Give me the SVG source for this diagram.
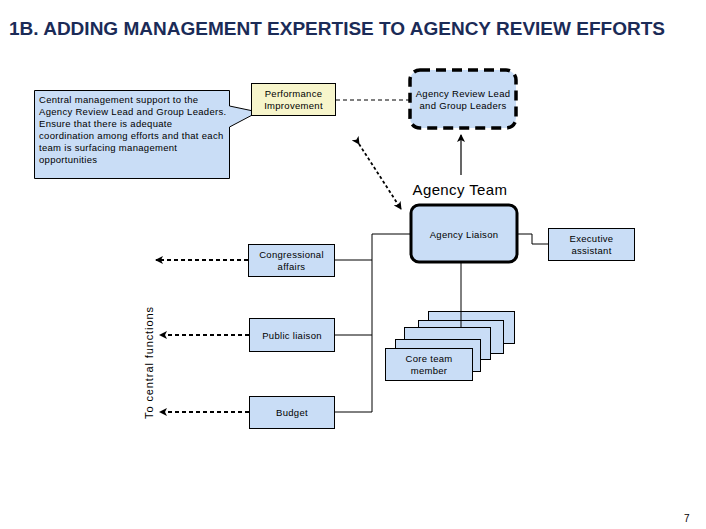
<svg xmlns="http://www.w3.org/2000/svg" width="706" height="529" viewBox="0 0 706 529">
<style>
text{font-family:"Liberation Sans",Arial,sans-serif;fill:#000}
.s{font-size:9.5px;letter-spacing:0.3px}
.box{fill:#c9ddf6;stroke:#000;stroke-width:1}
.ln{fill:none;stroke:#000;stroke-width:1}
.dsh{fill:none;stroke:#000;stroke-width:2;stroke-dasharray:4 3}
</style>
<defs>
<marker id="ah" markerWidth="8" markerHeight="8" refX="7" refY="4" orient="auto" markerUnits="userSpaceOnUse">
<path d="M0,0 L8,4 L0,8 L2,4 Z" fill="#000"/>
</marker>
</defs>
<rect width="706" height="529" fill="#fff"/>
<text x="9" y="35" font-size="18" font-weight="bold" style="fill:#1b2b57" textLength="656" lengthAdjust="spacingAndGlyphs">1B. ADDING MANAGEMENT EXPERTISE TO AGENCY REVIEW EFFORTS</text>

<g id="connectors">
<line x1="336" y1="100" x2="409" y2="100" stroke="#000" stroke-width="1" stroke-dasharray="4 3"/>
<line x1="461" y1="175" x2="461" y2="135" stroke="#000" stroke-width="1.2" marker-end="url(#ah)"/>
<line x1="359" y1="144" x2="401" y2="209" stroke="#000" stroke-width="1.8" stroke-dasharray="3 2.5" marker-start="url(#ah)" marker-end="url(#ah)"/>
<polyline class="ln" points="410,234 372,234 372,412 334,412"/>
<line class="ln" x1="334" y1="260" x2="372" y2="260"/>
<line class="ln" x1="334" y1="335" x2="372" y2="335"/>
<polyline class="ln" points="518,234 532,234 532,244 548,244"/>
<line class="dsh" x1="248" y1="260" x2="156" y2="260" marker-end="url(#ah)"/>
<line class="dsh" x1="249" y1="335" x2="160" y2="335" marker-end="url(#ah)"/>
<line class="dsh" x1="249" y1="412" x2="160" y2="412" marker-end="url(#ah)"/>
</g>

<g id="callout">
<path d="M34.5,90.5 H229.5 V106 L258,112 L229.5,127 V178.5 H34.5 Z" fill="#c9ddf6" stroke="#000" stroke-width="1"/>
<text class="s" x="39" y="103">Central management support to the</text>
<text class="s" x="39" y="115">Agency Review Lead and Group Leaders.</text>
<text class="s" x="39" y="127">Ensure that there is adequate</text>
<text class="s" x="39" y="139">coordination among efforts and that each</text>
<text class="s" x="39" y="151">team is surfacing management</text>
<text class="s" x="39" y="163">opportunities</text>
</g>

<g id="perf">
<rect x="251.5" y="83.5" width="84" height="32" fill="#f7f5cb" stroke="#000" stroke-width="1"/>
<text class="s" x="293.5" y="97" text-anchor="middle">Performance</text>
<text class="s" x="293.5" y="109" text-anchor="middle">Improvement</text>
</g>

<g id="review-lead">
<rect x="410" y="70" width="106" height="58" rx="10" fill="#c9ddf6" stroke="#000" stroke-width="3.5" stroke-dasharray="10 6"/>
<text class="s" x="463" y="97" text-anchor="middle">Agency Review Lead</text>
<text class="s" x="463" y="109" text-anchor="middle">and Group Leaders</text>
</g>

<g id="agency-team-label">
<text x="460" y="195" font-size="15" text-anchor="middle" letter-spacing="0.4">Agency Team</text>
</g>

<g id="liaison">
<rect x="411" y="205" width="106" height="57" rx="8" fill="#c9ddf6" stroke="#000" stroke-width="3"/>
<text class="s" x="464" y="238" text-anchor="middle">Agency Liaison</text>
</g>

<g id="exec">
<rect class="box" x="548.5" y="228.5" width="86" height="32"/>
<text class="s" x="591.5" y="242" text-anchor="middle">Executive</text>
<text class="s" x="591.5" y="254" text-anchor="middle">assistant</text>
</g>

<g id="congress">
<rect class="box" x="248.5" y="244.5" width="86" height="32"/>
<text class="s" x="291.5" y="258" text-anchor="middle">Congressional</text>
<text class="s" x="291.5" y="270" text-anchor="middle">affairs</text>
</g>

<g id="public">
<rect class="box" x="249.5" y="318.5" width="85" height="33"/>
<text class="s" x="292" y="339" text-anchor="middle">Public liaison</text>
</g>

<g id="budget">
<rect class="box" x="249.5" y="396.5" width="85" height="32"/>
<text class="s" x="292" y="416" text-anchor="middle">Budget</text>
</g>

<g id="core-team">
<rect class="box" x="428.5" y="311.5" width="86" height="32"/>
<rect class="box" x="418.5" y="320.5" width="85" height="33"/>
<line class="ln" x1="461" y1="263" x2="461" y2="332"/>
<rect class="box" x="404.5" y="327.5" width="86" height="32"/>
<rect class="box" x="395.5" y="339.5" width="85" height="32"/>
<rect class="box" x="385.5" y="348.5" width="87" height="32"/>
<text class="s" x="429" y="362" text-anchor="middle">Core team</text>
<text class="s" x="429" y="374" text-anchor="middle">member</text>
</g>

<g id="central-label">
<text x="0" y="0" font-size="11" transform="translate(153,363) rotate(-90)" text-anchor="middle" textLength="112" lengthAdjust="spacing">To central functions</text>
</g>

<text x="684" y="522" font-size="10">7</text>
</svg>
